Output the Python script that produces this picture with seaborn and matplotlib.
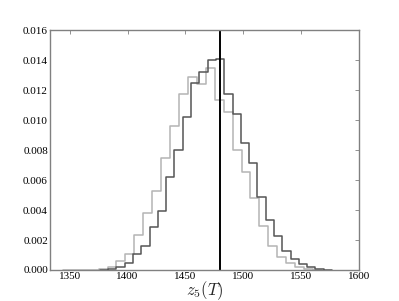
import numpy as np
import pandas as pd
import matplotlib
matplotlib.use("Agg")
import matplotlib.pyplot as plt
import seaborn as sns

# bin edges / heights (normalised histograms)
lightStart = 1344.1
lightWidth = 7.72
lightHeights = [0.00002, 0.00001, 0.00001, 0.00002, 0.00005, 0.00018, 0.00058, 0.00105,
                0.00235, 0.00383, 0.00525, 0.0075, 0.0096, 0.01173, 0.01284, 0.0124,
                0.01349, 0.01133, 0.01055, 0.008, 0.00655, 0.00478, 0.00295, 0.0016,
                0.00089, 0.00049, 0.00018, 0.00008, 0.00003]

darkStart = 1376.0
darkWidth = 7.17
darkHeights = [0.00003, 0.00008, 0.00018, 0.00045, 0.00107, 0.00162, 0.00285, 0.00395,
               0.00622, 0.008, 0.01022, 0.01249, 0.01318, 0.0140, 0.01409, 0.01171,
               0.01038, 0.00845, 0.00711, 0.00489, 0.00333, 0.00227, 0.00129, 0.00071,
               0.0004, 0.00018, 0.00007, 0.00002]

trueValue = 1480
xTicks = [1350, 1400, 1450, 1500, 1550, 1600]
yTicks = [0.000, 0.002, 0.004, 0.006, 0.008, 0.010, 0.012, 0.014, 0.016]

sns.set_style("white")
plt.rcParams['font.family'] = ['Liberation Serif', 'DejaVu Serif']
plt.rcParams['mathtext.fontset'] = 'cm'


def edges_for(start, width, heights):
    return start + width * np.arange(len(heights) + 1)


fig = plt.figure(figsize=(3.99, 3.01), dpi=100)
ax = fig.add_axes([0.1253, 0.103, 0.7744, 0.797])

for start, width, heights, colour in [(lightStart, lightWidth, lightHeights, "#b4b4b4"),
                                      (darkStart, darkWidth, darkHeights, "#555555")]:
    edges = edges_for(start, width, heights)
    df = pd.DataFrame({"x": (edges[:-1] + edges[1:]) / 2, "w": heights})
    sns.histplot(data=df, x="x", weights="w", bins=list(edges), element="step", fill=False,
                 color=colour, linewidth=1.1, ax=ax)

ax.axvline(trueValue, color="black", linewidth=1.4)

ax.set_xlim(1333, 1600)
ax.set_ylim(0, 0.016)
ax.set_xticks(xTicks)
ax.set_yticks(yTicks)
ax.set_yticklabels(["%.3f" % t for t in yTicks])
ax.set_ylabel("")
ax.set_xlabel(r"$z_5(T)$", fontsize=12)
ax.xaxis.set_label_coords(0.5, -0.04)
ax.tick_params(direction="in", length=3, width=0.6, colors="#808080", labelsize=8,
               labelcolor="black", top=True, right=True, pad=1.5)
for s in ax.spines.values():
    s.set_color("#808080")
    s.set_linewidth(1.0)

fig.savefig("out.png", dpi=100)
